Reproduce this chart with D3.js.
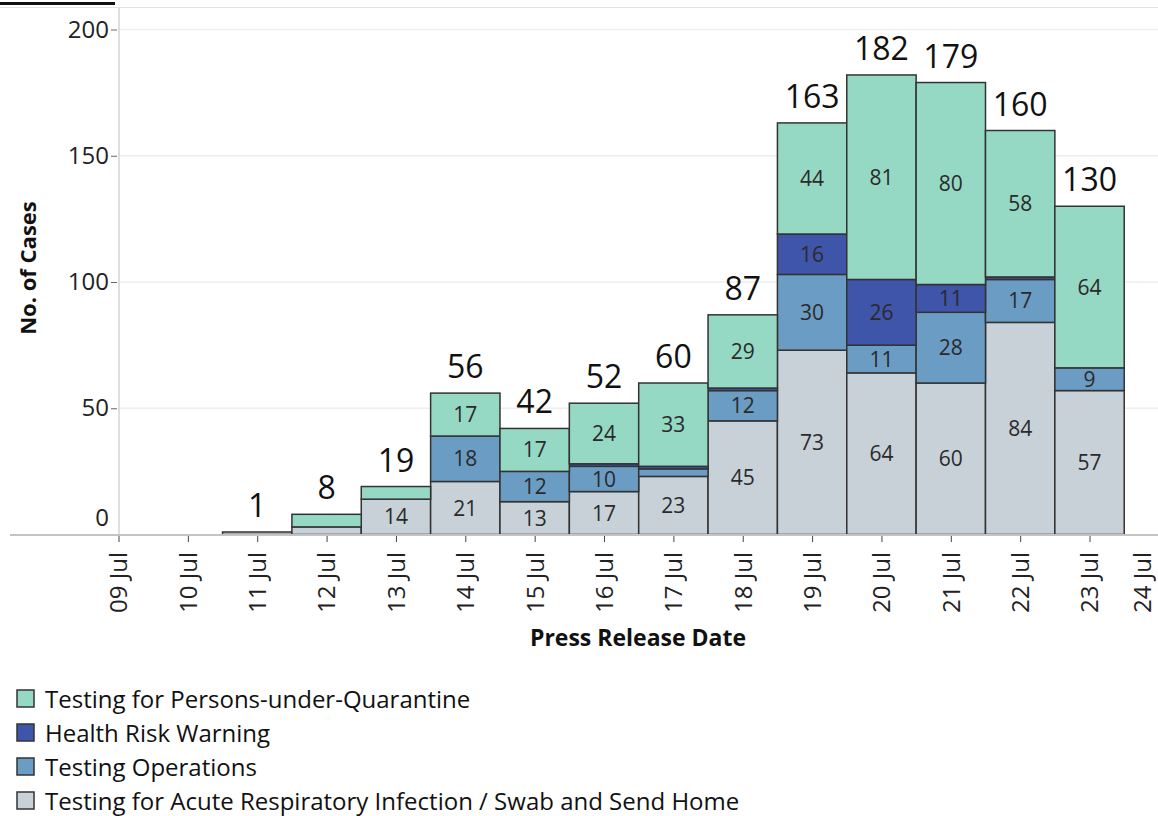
<!DOCTYPE html>
<html>
<head>
<meta charset="utf-8">
<script src="https://cdn.jsdelivr.net/npm/d3@7"></script>
<style>
  body { margin: 0; background: #fff; }
  svg { display: block; font-family: "Open Sans", sans-serif; }
</style>
</head>
<body>
<div id="chart"></div>
<script>
// press release dates (bars), and cases per detection method
const dates = ["2020-07-11", "2020-07-12", "2020-07-13", "2020-07-14", "2020-07-15", "2020-07-16", "2020-07-17",
               "2020-07-18", "2020-07-19", "2020-07-20", "2020-07-21", "2020-07-22", "2020-07-23"];
const ariSwab   = [1, 3, 14, 21, 13, 17, 23, 45, 73, 64, 60, 84, 57];
const testOps   = [0, 0, 0, 18, 12, 10, 3, 12, 30, 11, 28, 17, 9];
const healthRisk = [0, 0, 0, 0, 0, 1, 1, 1, 16, 26, 11, 1, 0];
const quarantine = [0, 5, 5, 17, 17, 24, 33, 29, 44, 81, 80, 58, 64];

const seriesKeys = ["ari", "ops", "hrw", "puq"];
const seriesNames = {
  puq: "Testing for Persons-under-Quarantine",
  hrw: "Health Risk Warning",
  ops: "Testing Operations",
  ari: "Testing for Acute Respiratory Infection / Swab and Send Home"
};
const yTicks = [0, 50, 100, 150, 200];

let w = 1158,
    h = 816;

let color = d3.scaleOrdinal()
              .domain(["puq", "hrw", "ops", "ari"])
              .range(["#95d8c3", "#3f55aa", "#6a9cc4", "#c8d1d8"]);

let parse = d3.timeParse("%Y-%m-%d");

// build rows for the stack
let rows = dates.map((d, i) => ({
  date: parse(d),
  ari: ariSwab[i],
  ops: testOps[i],
  hrw: healthRisk[i],
  puq: quarantine[i]
}));

let svg = d3.select("#chart")
            .append("svg")
            .attr("width", w)
            .attr("height", h);

let x = d3.scaleTime()
          .domain([parse("2020-07-09"), parse("2020-07-24")])
          .range([118.5, 1158.9]);

let y = d3.scaleLinear()
          .domain([0, 200])
          .range([534.5, 29.5]);

let dayW = x(parse("2020-07-10")) - x(parse("2020-07-09"));

// clipped figure heading underline
svg.append("rect")
   .attr("x", 0).attr("y", 2)
   .attr("width", 115).attr("height", 3)
   .attr("fill", "#111");

svg.append("line")
   .attr("x1", 0).attr("x2", w)
   .attr("y1", 7.5).attr("y2", 7.5)
   .attr("stroke", "#e2e2e2");

// gridlines
svg.append("g")
   .selectAll("line")
   .data(yTicks.filter(t => t > 0))
   .enter()
   .append("line")
   .attr("x1", 119).attr("x2", w)
   .attr("y1", d => y(d)).attr("y2", d => y(d))
   .attr("stroke", "#eeeeee")
   .attr("stroke-width", 1.5);

// y axis line
svg.append("line")
   .attr("x1", 119).attr("x2", 119)
   .attr("y1", 8).attr("y2", 535)
   .attr("stroke", "#d4d4d4")
   .attr("stroke-width", 1.5);

let yAxis = svg.append("g")
               .attr("transform", "translate(117,0)")
               .call(d3.axisLeft(y).tickValues(yTicks).tickSize(6).tickPadding(2));

yAxis.select(".domain").remove();
yAxis.selectAll(".tick line").attr("stroke", "#666");
yAxis.selectAll(".tick text")
     .attr("fill", "#222")
     .style("font-size", "24px")
     .style("font-family", "Open Sans, sans-serif");
// Tableau pushes the zero label up
yAxis.selectAll(".tick").filter(d => d === 0)
     .each(function() {
       d3.select(this).select("line").remove();
       d3.select(this).select("text").attr("y", -17);
     });

// stacked bars
let stacked = d3.stack().keys(seriesKeys)(rows);

let layers = svg.append("g")
                .selectAll("g")
                .data(stacked)
                .enter()
                .append("g")
                .attr("fill", d => color(d.key));

layers.selectAll("rect")
      .data(d => d.filter(s => s[1] - s[0] > 0))
      .enter()
      .append("rect")
      .attr("x", d => x(d.data.date) - dayW / 2)
      .attr("width", dayW)
      .attr("y", d => y(d[1]))
      .attr("height", d => y(d[0]) - y(d[1]))
      .attr("stroke", "#333")
      .attr("stroke-width", 1.5);

// labels inside segments
layers.selectAll("text")
      .data(d => d.filter(s => s[1] - s[0] >= 9))
      .enter()
      .append("text")
      .attr("x", d => x(d.data.date))
      .attr("y", d => y((d[0] + d[1]) / 2))
      .attr("dy", "0.36em")
      .attr("text-anchor", "middle")
      .attr("fill", "#2a2a2a")
      .style("font-size", "21px")
      .text(d => d[1] - d[0]);

// bar totals
svg.append("g")
   .selectAll("text")
   .data(rows)
   .enter()
   .append("text")
   .attr("x", d => x(d.date))
   .attr("y", d => y(d.ari + d.ops + d.hrw + d.puq) - 15)
   .attr("text-anchor", "middle")
   .attr("fill", "#111")
   .style("font-size", "32px")
   .text(d => d.ari + d.ops + d.hrw + d.puq);

// baseline
svg.append("line")
   .attr("x1", 10).attr("x2", w)
   .attr("y1", 535).attr("y2", 535)
   .attr("stroke", "#c4c4c4")
   .attr("stroke-width", 2);

// x axis
let xAxis = svg.append("g")
               .attr("transform", "translate(0,536)")
               .call(d3.axisBottom(x)
                       .tickValues(d3.timeDay.range(parse("2020-07-09"), parse("2020-07-25")))
                       .tickFormat(d3.timeFormat("%d %b"))
                       .tickSize(6)
                       .tickSizeOuter(0));

xAxis.select(".domain").remove();
xAxis.selectAll(".tick line").attr("stroke", "#444");
xAxis.selectAll(".tick text")
     .attr("fill", "#222")
     .style("font-size", "24px")
     .style("font-family", "Open Sans, sans-serif")
     .attr("text-anchor", "end")
     .attr("transform", "rotate(-90)")
     .attr("x", -16)
     .attr("y", 0)
     .attr("dy", "0.35em");

// last label would fall off the page, nudge it in
xAxis.selectAll(".tick")
     .filter(d => x(d) > w - 10)
     .attr("transform", `translate(${w - 15},0)`)
     .select("line").remove();

// axis titles
svg.append("text")
   .attr("transform", "translate(36,268) rotate(-90)")
   .attr("text-anchor", "middle")
   .attr("fill", "#111")
   .style("font-size", "22px")
   .style("font-weight", "bold")
   .text("No. of Cases");

svg.append("text")
   .attr("x", 638)
   .attr("y", 646)
   .attr("text-anchor", "middle")
   .attr("fill", "#111")
   .style("font-size", "23px")
   .style("font-weight", "bold")
   .text("Press Release Date");

// legend
let legendKeys = ["puq", "hrw", "ops", "ari"];

let legend = svg.append("g")
                .selectAll("g")
                .data(legendKeys)
                .enter()
                .append("g")
                .attr("transform", (d, i) => `translate(17,${690 + i * 34})`);

legend.append("rect")
      .attr("width", 17)
      .attr("height", 17)
      .attr("fill", d => color(d))
      .attr("stroke", "#333")
      .attr("stroke-width", 1.5);

legend.append("text")
      .attr("x", 28)
      .attr("y", 9)
      .attr("dy", "0.36em")
      .attr("fill", "#111")
      .style("font-size", "24px")
      .text(d => seriesNames[d]);
</script>
</body>
</html>
